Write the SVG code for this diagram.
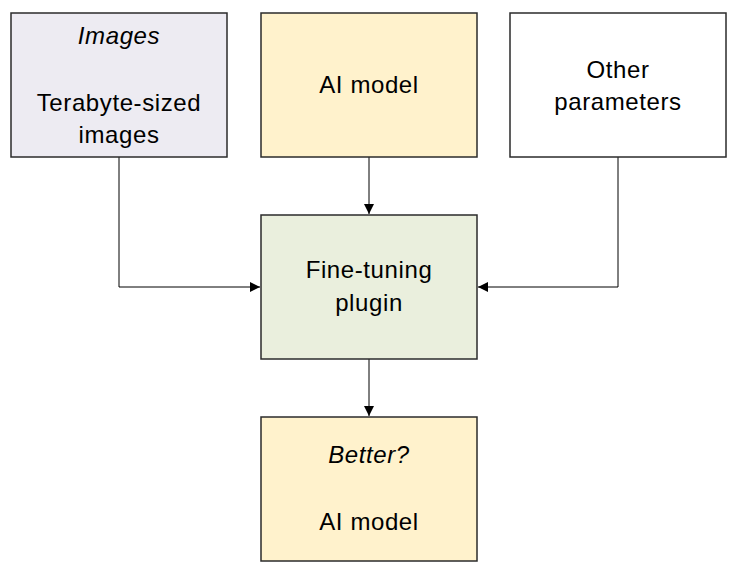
<svg xmlns="http://www.w3.org/2000/svg" width="737" height="572" viewBox="0 0 737 572">
<style>
.box{stroke:#2b2b2b;stroke-width:1.5}
.t{font-family:"Liberation Sans",Arial,sans-serif;font-size:24px;letter-spacing:0.6px;fill:#000;text-anchor:middle}
.i{font-style:italic}
.c{fill:none;stroke:#000;stroke-width:1}
</style>
<defs>
<marker id="ah" viewBox="0 0 10 10" refX="10" refY="5" markerWidth="10" markerHeight="10" markerUnits="userSpaceOnUse" orient="auto">
<path d="M0,0 L10,5 L0,10 Z" fill="#000"/>
</marker>
</defs>
<rect width="737" height="572" fill="#fff"/>
<g id="connectors">
<path class="c" d="M119,157 V287 H260" marker-end="url(#ah)"/>
<path class="c" d="M369,157 V214" marker-end="url(#ah)"/>
<path class="c" d="M618,157 V287 H478" marker-end="url(#ah)"/>
<path class="c" d="M369,359 V416" marker-end="url(#ah)"/>
</g>
<g id="images">
<rect class="box" x="11" y="13" width="216" height="144" fill="#EDEBF2"/>
<text class="t i" x="119" y="44">Images</text>
<text class="t" x="119" y="111">Terabyte-sized</text>
<text class="t" x="119" y="143">images</text>
</g>
<g id="ai-model">
<rect class="box" x="261" y="13" width="216" height="144" fill="#FFF2CC"/>
<text class="t" x="369" y="93">AI model</text>
</g>
<g id="other-parameters">
<rect class="box" x="510" y="13" width="216" height="144" fill="#FFFFFF"/>
<text class="t" x="618" y="78">Other</text>
<text class="t" x="618" y="110">parameters</text>
</g>
<g id="fine-tuning">
<rect class="box" x="261" y="215" width="216" height="144" fill="#EAEFDD"/>
<text class="t" x="369" y="278">Fine-tuning</text>
<text class="t" x="369" y="311">plugin</text>
</g>
<g id="better">
<rect class="box" x="261" y="417" width="216" height="144" fill="#FFF2CC"/>
<text class="t i" x="369" y="463">Better?</text>
<text class="t" x="369" y="530">AI model</text>
</g>
</svg>
